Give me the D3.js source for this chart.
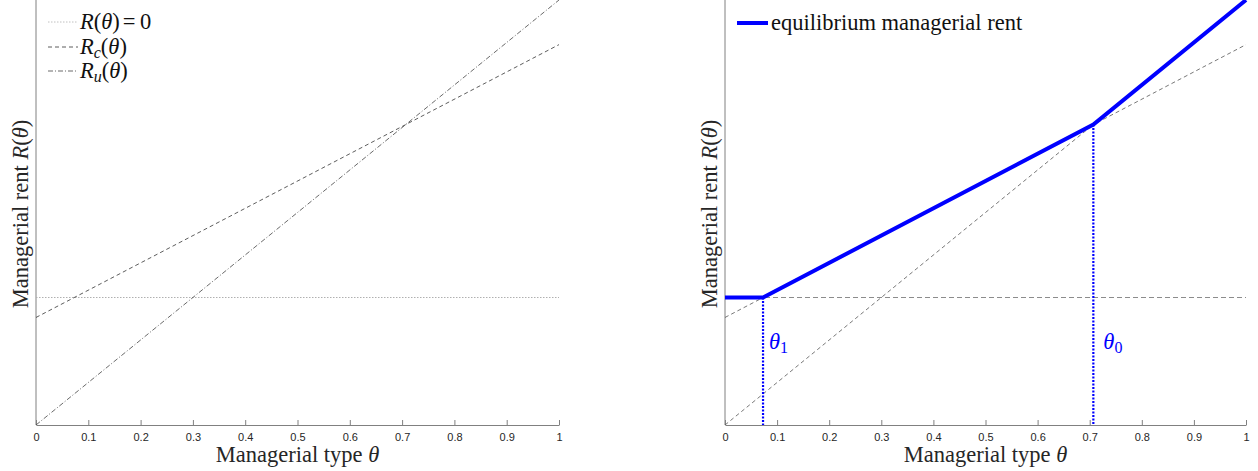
<!DOCTYPE html>
<html><head><meta charset="utf-8">
<script src="https://cdn.jsdelivr.net/npm/d3@7"></script>
<style>body{margin:0;background:#fff}svg{display:block}</style>
</head><body>
<svg id="c" width="1258" height="471"></svg>
<script>
// ---- data ----
const thetaEnds = [0, 1];
const zeroRent = [0, 0];
const rentC = [-0.047, 0.595];   // R_c(θ)
const rentU = [-0.3, 0.7];       // R_u(θ)
const eqTheta = [0, 0.073, 0.707, 1];
const eqRent = [0, 0, 0.407, 0.7];
const thetaMarks = [0.073, 0.707];
const thetaMarkLabels = ["1", "0"];
const xTicks = [0, 0.1, 0.2, 0.3, 0.4, 0.5, 0.6, 0.7, 0.8, 0.9, 1];
const xTickLabels = ["0","0.1","0.2","0.3","0.4","0.5","0.6","0.7","0.8","0.9","1"];
const yDomain = [-0.3, 0.7];

const svg = d3.select("#c");
const serif = "'Liberation Serif','DejaVu Serif',serif";
const sans = "'Liberation Sans',Arial,sans-serif";
const plotBottom = 425, plotTop = 0;
const fs = 22.5, subFs = 16;

function panel(x0, x1) {
  const x = d3.scaleLinear().domain([0, 1]).range([x0, x1]);
  const y = d3.scaleLinear().domain(yDomain).range([plotBottom, plotTop]);
  const g = svg.append("g");
  const ax = d3.axisBottom(x).tickValues(xTicks)
    .tickFormat((d, i) => xTickLabels[i]).tickSizeInner(-5).tickSizeOuter(0).tickPadding(8);
  const ga = g.append("g").attr("transform", `translate(0,${plotBottom})`).call(ax);
  ga.select(".domain").attr("stroke", "#808080");
  ga.selectAll(".tick line").attr("stroke", "#808080");
  ga.selectAll(".tick text").attr("font-family", sans).attr("font-size", 11).attr("fill", "#262626");
  g.append("line").attr("x1", x0).attr("x2", x0).attr("y1", plotBottom).attr("y2", plotTop)
    .attr("stroke", "#808080").attr("stroke-width", 1);
  const xl = g.append("text").attr("x", (x0 + x1) / 2).attr("y", 462)
    .attr("text-anchor", "middle").attr("font-family", serif).attr("font-size", fs).attr("fill", "#262626");
  xl.append("tspan").text("Managerial type ");
  xl.append("tspan").attr("font-style", "italic").text("θ");
  const yl = g.append("text").attr("transform", `translate(${x0 - 8},214) rotate(-90)`)
    .attr("text-anchor", "middle").attr("font-family", serif).attr("font-size", fs).attr("fill", "#262626");
  yl.append("tspan").text("Managerial rent ");
  yl.append("tspan").attr("font-style", "italic").text("R");
  yl.append("tspan").text("(");
  yl.append("tspan").attr("font-style", "italic").text("θ");
  yl.append("tspan").text(")");
  return {x, y, g};
}

function line(p, xs, ys, stroke, width, dash) {
  const l = d3.line().x(d => p.x(d[0])).y(d => p.y(d[1]));
  return p.g.append("path").attr("d", l(xs.map((v, i) => [v, ys[i]])))
    .attr("fill", "none").attr("stroke", stroke).attr("stroke-width", width)
    .attr("stroke-dasharray", dash);
}

function mathR(t, sub, extra) {
  t.append("tspan").attr("font-style", "italic").text("R");
  if (sub) t.append("tspan").attr("font-style", "italic").attr("font-size", subFs).attr("dy", 4).text(sub);
  t.append("tspan").attr("dy", sub ? -4 : 0).text("(");
  t.append("tspan").attr("font-style", "italic").text("θ");
  t.append("tspan").text(")");
  if (extra) t.append("tspan").attr("dx", 3).text(extra);
}

// ---- left panel ----
const L = panel(36, 559);
line(L, thetaEnds, zeroRent, "#b0b0b0", 1, "1.5,1.5");
line(L, thetaEnds, rentC, "#333", 0.8, "4,3");
line(L, thetaEnds, rentU, "#444", 0.8, "5,2,1,2");
const legRows = [
  {dash: "1.5,1.5", col: "#b0b0b0", sub: null, extra: "=\u20090", y: 22},
  {dash: "4,3", col: "#333", sub: "c", extra: "", y: 47},
  {dash: "5,2,1,2", col: "#444", sub: "u", extra: "", y: 71}
];
legRows.forEach(r => {
  L.g.append("line").attr("x1", 48).attr("x2", 78).attr("y1", r.y).attr("y2", r.y)
    .attr("stroke", r.col).attr("stroke-width", 0.8).attr("stroke-dasharray", r.dash);
  const t = L.g.append("text").attr("x", 80).attr("y", r.y + 7)
    .attr("font-family", serif).attr("font-size", fs).attr("fill", "#111");
  mathR(t, r.sub, r.extra);
});

// ---- right panel ----
const Rp = panel(725, 1246);
line(Rp, thetaEnds, zeroRent, "#8c8c8c", 1, "5,3");
line(Rp, thetaEnds, rentC, "#555", 0.8, "4,3");
line(Rp, thetaEnds, rentU, "#555", 0.8, "4,3");
const labelOffsets = [6, 10];
thetaMarks.forEach((m, i) => {
  const yv = eqRent[eqTheta.indexOf(m)];
  Rp.g.append("line").attr("x1", Rp.x(m)).attr("x2", Rp.x(m))
    .attr("y1", Rp.y(yv)).attr("y2", plotBottom)
    .attr("stroke", "#0000ff").attr("stroke-width", 2.2).attr("stroke-dasharray", "2,1.5");
  const t = Rp.g.append("text").attr("x", Rp.x(m) + labelOffsets[i]).attr("y", 349)
    .attr("font-family", serif).attr("font-size", fs).attr("fill", "#0000ff");
  t.append("tspan").attr("font-style", "italic").text("θ");
  t.append("tspan").attr("font-size", subFs).attr("dy", 4).text(thetaMarkLabels[i]);
});
line(Rp, eqTheta, eqRent, "#0000ff", 4, null);
Rp.g.append("line").attr("x1", 737).attr("x2", 768).attr("y1", 23).attr("y2", 23)
  .attr("stroke", "#0000ff").attr("stroke-width", 4);
Rp.g.append("text").attr("x", 771).attr("y", 30).attr("font-family", serif)
  .attr("font-size", fs).attr("fill", "#111").text("equilibrium managerial rent");
</script>
</body></html>
